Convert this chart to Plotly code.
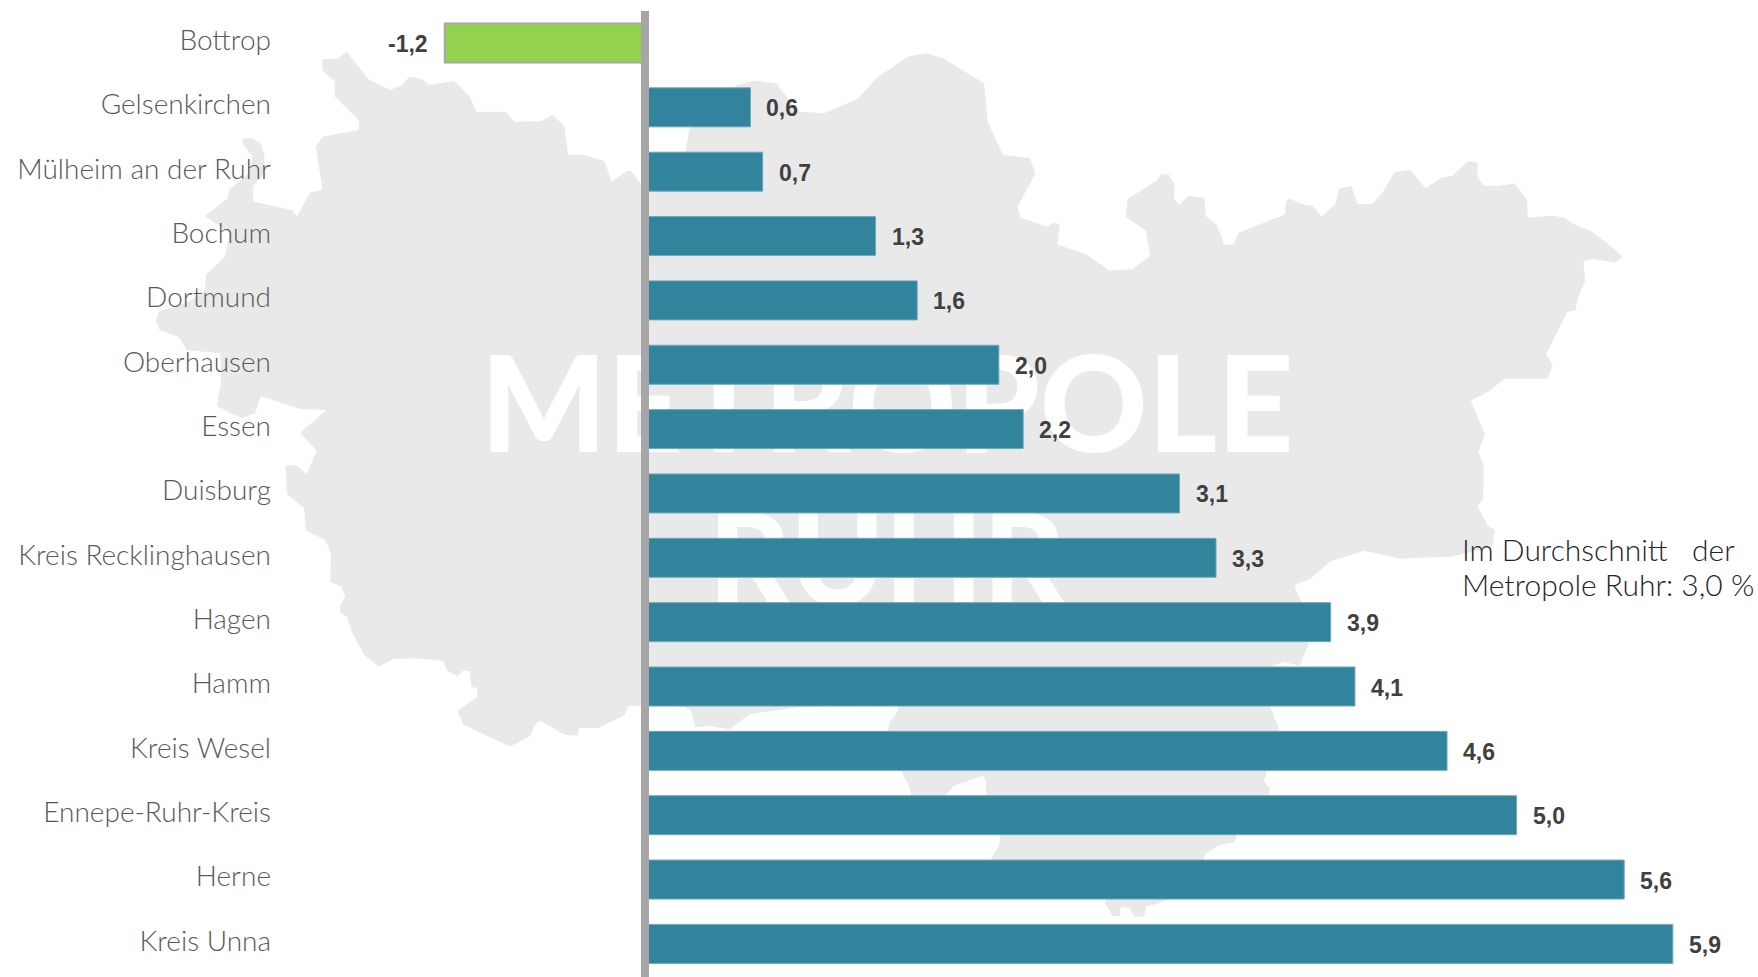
import plotly.graph_objects as go

# ---- data ----
categories = ["Bottrop", "Gelsenkirchen", "Mülheim an der Ruhr", "Bochum", "Dortmund",
              "Oberhausen", "Essen", "Duisburg", "Kreis Recklinghausen", "Hagen",
              "Hamm", "Kreis Wesel", "Ennepe-Ruhr-Kreis", "Herne", "Kreis Unna"]
values = [-1.17, 0.59, 0.66, 1.31, 1.55, 2.02, 2.16, 3.06, 3.27, 3.93, 4.07, 4.60, 5.00, 5.62, 5.90]
labels = ["-1,2", "0,6", "0,7", "1,3", "1,6", "2,0", "2,2", "3,1", "3,3", "3,9",
          "4,1", "4,6", "5,0", "5,6", "5,9"]
note_lines = ["Im Durchschnitt\u00a0\u00a0\u00a0der", "Metropole Ruhr: 3,0 %"]
watermark = ["METROPOLE", "RUHR"]

# ---- styles ----
W, H = 1758, 977
TEAL, GREEN, GREY, MAP = "#31849b", "#92d24f", "#a6a6a6", "#e9e9e9"
LABEL_FONT = "Lato"


def crop(x0, y0, fx, fy, pts):
    return [(x0 + a / fx, y0 + b / fy) for a, b in pts]


# decorative map silhouette, traced in page pixels from crops of the picture
north_west = crop(130, 0, 2.529, 3, [
    (486, 178), (525, 176), (548, 155), (603, 238), (658, 270), (688, 255), (706, 230), (735, 236),
    (757, 254), (820, 243), (860, 292), (876, 335), (950, 335), (972, 365), (1040, 364), (1069, 344),
    (1098, 378), (1108, 464), (1148, 464), (1200, 484), (1218, 545), (1258, 512), (1268, 514), (1292, 552),
    (1405, 455), (1415, 385), (1500, 290), (1540, 250)])
north_east = crop(700, 40, 1.637, 2.8, [
    (65, 125), (90, 113), (125, 122), (160, 200), (203, 205), (258, 165), (290, 105), (340, 47), (370, 37),
    (398, 50), (465, 122), (471, 230), (496, 322), (540, 330), (549, 373), (520, 467), (524, 497), (570, 524),
    (578, 510), (589, 517), (585, 573), (632, 600), (670, 645), (708, 642), (737, 604), (730, 534), (697, 495),
    (700, 445), (748, 393), (755, 376), (767, 376), (777, 405), (776, 445), (785, 462), (799, 436), (826, 442),
    (828, 493), (846, 518), (858, 573), (874, 573), (881, 540), (957, 489), (960, 450), (965, 444), (985, 460),
    (1003, 465), (1018, 495), (1040, 460), (1046, 417), (1066, 408), (1076, 459), (1100, 459), (1117, 428),
    (1136, 371), (1163, 364), (1188, 415), (1214, 385), (1232, 380), (1258, 338), (1273, 345), (1273, 385),
    (1283, 407), (1306, 409), (1334, 402), (1354, 449), (1355, 497), (1395, 492), (1415, 497), (1430, 515),
    (1458, 535), (1490, 575), (1510, 607), (1498, 623), (1460, 613), (1446, 621), (1449, 673), (1437, 722),
    (1433, 757), (1420, 762), (1385, 880), (1396, 912), (1388, 948), (1318, 948), (1290, 985), (1262, 1010),
    (1285, 1105), (1274, 1155), (1283, 1190), (1282, 1285), (1273, 1305), (1290, 1360), (1301, 1372),
    (1297, 1420), (1230, 1447), (1145, 1452), (1087, 1430), (1032, 1460), (998, 1510), (975, 1525)])
east = crop(1000, 500, 2.069, 3, [
    (610, 262), (625, 310), (638, 435), (620, 497), (585, 485), (565, 497)])
south_east = crop(1100, 690, 3, 3, [
    (510, 48), (540, 125), (500, 242), (492, 272), (510, 297), (505, 320), (410, 435), (402, 457), (360, 465),
    (318, 490), (310, 510), (205, 628), (170, 642), (140, 648), (132, 680), (105, 680), (88, 655), (62, 652),
    (60, 678), (38, 678), (14, 640), (18, 628)])
south = crop(640, 690, 3, 3, [
    (1052, 508), (1078, 465), (1080, 435), (1038, 318), (1038, 272), (1028, 257), (942, 287), (915, 318),
    (812, 318), (810, 295), (783, 242), (745, 125), (748, 95), (775, 62), (775, 48), (485, 50), (330, 72),
    (268, 118), (210, 108), (165, 112), (155, 65), (135, 50)])
south_west = crop(130, 480, 1.742, 3, [
    (890, 678), (868, 678), (862, 705), (815, 745), (782, 743), (780, 767), (758, 765), (715, 722), (705, 735),
    (697, 768), (662, 800), (580, 733), (570, 692), (605, 652), (605, 623), (595, 622), (592, 574), (580, 572),
    (570, 588), (552, 572), (546, 543), (500, 535), (458, 537), (434, 560), (408, 525), (385, 450), (378, 410),
    (366, 400), (366, 375), (375, 350), (368, 320), (349, 305), (350, 220), (340, 180), (308, 153)])
west = crop(140, 380, 3, 3, [
    (498, 452), (492, 385), (441, 342), (436, 256), (470, 257), (500, 282), (530, 212), (480, 158), (560, 90),
    (480, 87), (362, 48), (345, 100), (305, 115), (230, 78)])
north_west_2 = crop(130, 0, 2.529, 3, [
    (230, 1150), (228, 1060), (143, 1050), (125, 1012), (75, 990), (65, 965), (72, 935), (150, 905), (190, 870),
    (192, 825), (240, 770), (252, 700), (190, 648), (247, 595), (250, 570), (275, 545), (300, 520), (310, 470),
    (285, 430), (285, 415), (310, 415), (330, 430), (340, 465), (340, 520), (310, 560), (312, 605), (410, 630),
    (422, 650), (455, 578), (487, 570), (470, 440), (487, 410), (578, 390), (580, 362), (518, 290), (518, 245),
    (486, 210)])
outline = north_west + north_east + east + south_east + south + south_west + west + north_west_2
map_path = "M " + " L ".join(f"{x:.1f},{y:.1f}" for x, y in outline) + " Z"

# ---- figure ----
fig = go.Figure()

# backdrop layer: white lettering on the map, behind the bars
fig.add_trace(go.Scatter(
    x=[887, 887], y=[419, 573], text=watermark, mode="text", textposition="middle center",
    textfont=dict(family="Lato", size=[133, 127], color="white", weight=900),
    hoverinfo="skip", showlegend=False, xaxis="x", yaxis="y"))

# bars on an overlaying pair of axes, so that they cover the lettering
fig.add_trace(go.Bar(
    x=values, y=categories, orientation="h", width=0.606,
    marker=dict(color=[GREEN if v < 0 else TEAL for v in values],
                line=dict(color=[GREY if v < 0 else "#6fa9bb" for v in values],
                          width=[2 if v < 0 else 1 for v in values])),
    hoverinfo="x+y", showlegend=False, xaxis="x2", yaxis="y2"))

annotations = []
for cat, v, lab in zip(categories, values, labels):
    annotations.append(dict(
        x=v, y=cat, xref="x2", yref="y2", text=lab, showarrow=False,
        xanchor="right" if v < 0 else "left", yanchor="middle",
        xshift=-15 if v < 0 else 14, yshift=-1,
        font=dict(family="Liberation Sans", size=23, color="#404040", weight=700)))
for line, ypos in zip(note_lines, [549, 584]):
    annotations.append(dict(
        x=1460, y=ypos, xref="x", yref="y", text=line, showarrow=False, align="left",
        xanchor="left", yanchor="middle",
        font=dict(family=LABEL_FONT, size=30, color="#262626", weight=300)))

PITCH = 64.35
TOP = 43.0
ZERO = 648.0
UNIT = 173.7
fig.update_layout(
    width=W, height=H, margin=dict(l=0, r=0, t=0, b=0, pad=0, autoexpand=False),
    paper_bgcolor="white", plot_bgcolor="rgba(0,0,0,0)", bargap=0.39,
    annotations=annotations,
    shapes=[
        dict(type="path", path=map_path, xref="x", yref="y", fillcolor=MAP,
             line=dict(width=0), layer="below"),
        dict(type="rect", xref="x", yref="y", x0=641, x1=649, y0=11, y1=977,
             fillcolor=GREY, line=dict(width=0), layer="above"),
    ],
    xaxis=dict(range=[0, W], visible=False, fixedrange=True),
    yaxis=dict(range=[H, 0], visible=False, fixedrange=True),
    xaxis2=dict(overlaying="x", range=[-ZERO / UNIT, (W - ZERO) / UNIT], visible=False,
                anchor="y2", fixedrange=True),
    yaxis2=dict(overlaying="y", anchor="free", position=271 / W, side="left", type="category",
                categoryorder="array", categoryarray=categories,
                range=[(H - TOP) / PITCH, -TOP / PITCH], showgrid=False, zeroline=False,
                showline=False, ticks="", fixedrange=True, ticklabelshift=3,
                tickfont=dict(family=LABEL_FONT, size=28, color="#595959", weight=300)),
)

fig.write_html("out.html", post_script="document.body.style.margin='0';",
               config={"displayModeBar": False})
